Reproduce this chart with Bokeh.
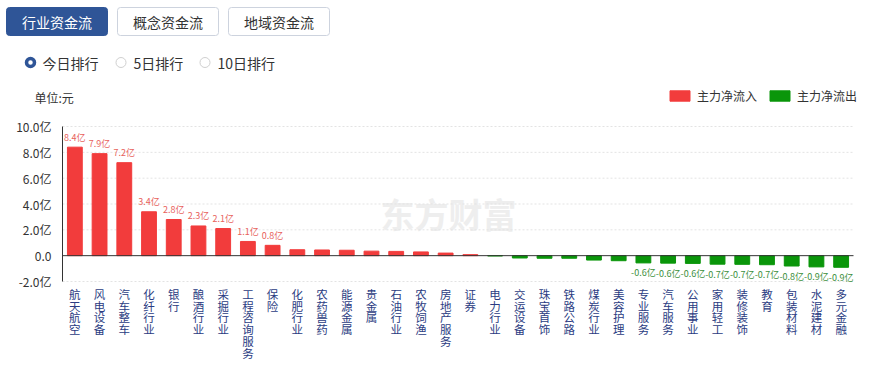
from bokeh.plotting import figure
from bokeh.models import (ColumnDataSource, FixedTicker, CustomJSTickFormatter,
                          BoxAnnotation, Range1d, Label, LabelSet, Legend, LegendItem)
from bokeh.core.properties import value
from bokeh.embed import file_html
from bokeh.resources import INLINE

# ---------------- data ----------------
categories = ["航天航空", "风电设备", "汽车整车", "化纤行业", "银行", "酿酒行业", "采掘行业",
              "工程咨询服务", "保险", "化肥行业", "农药兽药", "能源金属", "贵金属", "石油行业",
              "农牧饲渔", "房地产服务", "证券", "电力行业", "交运设备", "珠宝首饰", "铁路公路",
              "煤炭行业", "美容护理", "专业服务", "汽车服务", "公用事业", "家用轻工", "装修装饰",
              "教育", "包装材料", "水泥建材", "多元金融"]
values = [8.4, 7.9, 7.2, 3.4, 2.8, 2.3, 2.1, 1.1, 0.8, 0.46, 0.44, 0.42, 0.35, 0.33,
          0.29, 0.2, 0.08, -0.02, -0.18, -0.2, -0.2, -0.34, -0.39, -0.56, -0.58, -0.6,
          -0.66, -0.67, -0.7, -0.8, -0.87, -0.9]
y_ticks = [-2, 0, 2, 4, 6, 8, 10]
tabs = ["行业资金流", "概念资金流", "地域资金流"]
radios = ["今日排行", "5日排行", "10日排行"]
legend_names = ["主力净流入", "主力净流出"]
unit_text = "单位:元"
watermark = "东方财富"
labelled_each_end = 9

FONT = "Noto Sans CJK SC"
RED = "#f23c3c"
GREEN = "#0a960a"
BLUE = "#2f5597"
TEXT = "#333333"
CAT_COLOR = "#2b3c82"

# page layout (pixels): the plotting area of the bars
W, H = 860, 362
FL, FR, FT, FB = 62, 853, 126, 281
n = len(categories)
ymin, ymax = y_ticks[0], y_ticks[-1]
px_x = (FR - FL) / n
px_y = (FB - FT) / (ymax - ymin)
idx = list(range(n))


def sx(X):  # page x -> screen units (frame == whole canvas)
    return X


def sy(Y):  # page y -> screen units measured upward from canvas bottom
    return H - Y


p = figure(width=W, height=H, min_border=0,
           x_range=Range1d(-0.5 - FL / px_x, n - 0.5 + (W - FR) / px_x),
           y_range=Range1d(ymin - (H - FB) / px_y, ymax + FT / px_y),
           output_backend="svg", toolbar_location=None, outline_line_color=None)

# ---------------- grid (dotted) and zero line ----------------
grid_vals = [t for t in y_ticks if t != 0]
p.segment(x0=[-0.5] * len(grid_vals), x1=[n - 0.5] * len(grid_vals), y0=grid_vals,
          y1=grid_vals, line_color="#e3e3e3", line_width=1, line_dash="2 2")

# ---------------- watermark ----------------
p.add_layout(Label(x=sx(448), y=sy(213), x_units="screen", y_units="screen",
                   text=watermark, text_align="center", text_baseline="middle",
                   text_color="#eeeeee", text_font=FONT, text_font_size="34px",
                   text_font_style="bold", level="underlay"))

# ---------------- bars ----------------
colors = [RED if v >= 0 else GREEN for v in values]
src = ColumnDataSource(dict(x=idx, top=values, color=colors, name=categories))
bars = p.vbar(x="x", top="top", width=0.6, color="color", source=src)

p.segment(x0=[-0.5], x1=[n - 0.5], y0=[0], y1=[0], line_color=TEXT, line_width=1)

pos_src = ColumnDataSource(dict(x=idx[:labelled_each_end], y=values[:labelled_each_end],
                                t=[f"{v:.1f}亿" for v in values[:labelled_each_end]]))
neg_src = ColumnDataSource(dict(x=idx[-labelled_each_end:], y=values[-labelled_each_end:],
                                t=[f"{v:.1f}亿" for v in values[-labelled_each_end:]]))
p.text(x="x", y="y", text="t", source=pos_src, text_align="center", text_baseline="middle",
       y_offset=-10, text_color="#e8625c", text_font=value(FONT), text_font_size="9px")
p.text(x="x", y="y", text="t", source=neg_src, text_align="center", text_baseline="middle",
       y_offset=10, text_color="#3c8f3c", text_font=value(FONT), text_font_size="9px")

# ---------------- vertical category labels (one character per line) ----------------
cx_col, cy_col, ct_col = [], [], []
for i, c in enumerate(categories):
    for k, ch in enumerate(c):
        cx_col.append(i)
        cy_col.append(sy(293.5 + 11.7 * k))
        ct_col.append(ch)
p.add_layout(LabelSet(x="x", y="y", text="t", y_units="screen",
                      source=ColumnDataSource(dict(x=cx_col, y=cy_col, t=ct_col)),
                      text_align="center", text_baseline="middle", text_color=CAT_COLOR,
                      text_font=value(FONT), text_font_size="11.5px"))

# ---------------- y axis ----------------
p.xaxis.visible = False
p.xgrid.visible = False
p.ygrid.visible = False
p.yaxis.fixed_location = -0.5
p.yaxis.bounds = (ymin, ymax)
p.yaxis.ticker = FixedTicker(ticks=y_ticks)
p.yaxis.formatter = CustomJSTickFormatter(
    code="return tick == 0 ? '0.0' : tick.toFixed(1) + '亿';")
p.yaxis.axis_line_color = TEXT
p.yaxis.major_tick_line_color = None
p.yaxis.minor_tick_line_color = None
p.yaxis.major_label_standoff = 5
p.yaxis.major_label_text_font = FONT
p.yaxis.major_label_text_font_size = "12px"
p.yaxis.major_label_text_color = TEXT

# ---------------- legend ----------------
first_neg = next(i for i, v in enumerate(values) if v < 0)
legend = Legend(items=[LegendItem(label=legend_names[0], renderers=[bars], index=0),
                       LegendItem(label=legend_names[1], renderers=[bars], index=first_neg)],
                orientation="horizontal", location=(667, sy(104)),
                glyph_width=25, glyph_height=13, label_height=13, label_width=20,
                label_standoff=5, spacing=10, padding=0, margin=0,
                border_line_color=None, background_fill_alpha=0,
                label_text_font=FONT, label_text_font_size="12px", label_text_color=TEXT)
p.add_layout(legend)

# ---------------- header: tabs ----------------
tab_left = [6, 117, 228]
tab_right = [107, 218, 329]
for i, (l, r) in enumerate(zip(tab_left, tab_right)):
    p.add_layout(BoxAnnotation(left=sx(l), right=sx(r), top=sy(7), bottom=sy(35),
                               left_units="screen", right_units="screen",
                               top_units="screen", bottom_units="screen",
                               fill_color=BLUE if i == 0 else "white", fill_alpha=1,
                               line_color=BLUE if i == 0 else "#cdd3de", line_alpha=1,
                               line_width=1, border_radius=3))
for i, (l, r) in enumerate(zip(tab_left, tab_right)):
    p.add_layout(Label(x=sx((l + r) / 2), y=sy(21), x_units="screen", y_units="screen",
                       text=tabs[i], text_align="center", text_baseline="middle",
                       text_color="white" if i == 0 else TEXT, text_font=FONT,
                       text_font_size="14px"))

# ---------------- header: radios ----------------
radio_cx = [30, 120.5, 204.5]
radio_tx = [42, 133, 217]
for i, cx in enumerate(radio_cx):
    if i == 0:
        half, lc, lw = 4, BLUE, 3.5
    else:
        half, lc, lw = 5, "#d0d0d0", 1
    p.add_layout(BoxAnnotation(left=sx(cx - half), right=sx(cx + half),
                               top=sy(62 - half), bottom=sy(62 + half),
                               left_units="screen", right_units="screen",
                               top_units="screen", bottom_units="screen",
                               fill_color="white", fill_alpha=1, line_color=lc,
                               line_alpha=1, line_width=lw, border_radius=half))
    p.add_layout(Label(x=sx(radio_tx[i]), y=sy(62), x_units="screen", y_units="screen",
                       text=radios[i], text_align="left", text_baseline="middle",
                       text_color=TEXT, text_font=FONT, text_font_size="14px"))

# ---------------- unit ----------------
p.add_layout(Label(x=sx(34), y=sy(97), x_units="screen", y_units="screen", text=unit_text,
                   text_align="left", text_baseline="middle", text_color=TEXT,
                   text_font=FONT, text_font_size="12px"))

open("out.html", "w").write(file_html(p, INLINE))
